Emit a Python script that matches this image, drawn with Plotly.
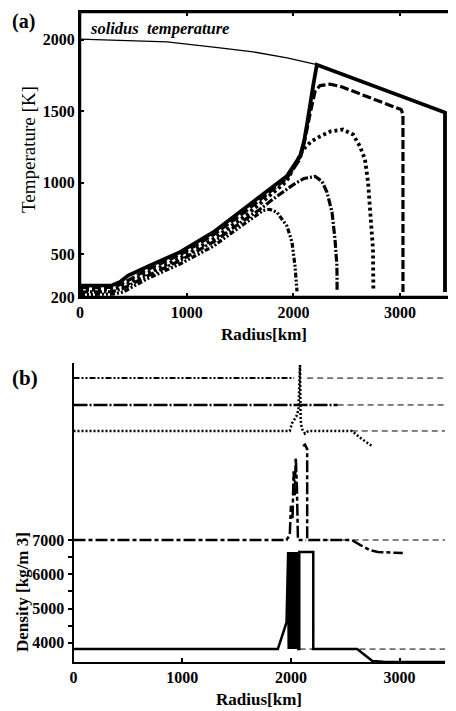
import plotly.graph_objects as go

# ---------------- Panel (a): temperature profiles ----------------
solidus_r = [0, 815, 1312, 1622, 1940, 2220]
solidus_T = [2005, 1986, 1944, 1916, 1874, 1826]

solid_r = [0, 300, 375, 450, 625, 937, 1250, 1562, 1750, 1937, 2062, 2100, 2130, 2156, 2190, 2220, 3421, 3421]
solid_T = [280, 282, 305, 350, 410, 514, 654, 828, 933, 1045, 1184, 1290, 1420, 1560, 1700, 1826, 1491, 235]

dash_r = [0, 300, 390, 625, 937, 1250, 1562, 1750, 1937, 2062, 2108, 2156, 2203, 2250, 2343, 2437, 3010, 3027, 3027]
dash_T = [265, 267, 290, 390, 495, 635, 805, 915, 1030, 1165, 1300, 1480, 1640, 1680, 1690, 1675, 1512, 1480, 235]

dot_r = [0, 300, 400, 625, 937, 1250, 1562, 1750, 1937, 2090, 2170, 2250, 2350, 2465, 2560, 2624, 2671, 2700, 2727, 2746, 2750]
dot_T = [250, 252, 272, 365, 470, 605, 775, 890, 1010, 1233, 1290, 1324, 1360, 1372, 1337, 1254, 1163, 1002, 765, 535, 240]

dashdot_r = [0, 300, 400, 625, 937, 1250, 1562, 1687, 1800, 1900, 1996, 2100, 2203, 2268, 2315, 2362, 2390, 2408, 2410]
dashdot_T = [235, 237, 258, 345, 455, 585, 750, 814, 880, 935, 985, 1030, 1044, 1010, 933, 793, 605, 417, 240]

ddot_r = [0, 300, 407, 625, 937, 1250, 1562, 1715, 1780, 1846, 1940, 1987, 2015, 2034]
ddot_T = [218, 220, 235, 326, 431, 556, 724, 805, 814, 793, 696, 584, 417, 240]

# ---------------- Panel (b): density profiles (stacked) ----------------
bsolid_r = [0, 1880, 1950, 1960, 1975, 1980, 1990, 1995, 2005, 2010, 2020, 2025, 2035, 2040,
            2050, 2055, 2062, 2068, 2077, 2077, 2206, 2206, 2610, 2750, 2850, 3418]
bsolid_rho = [3820, 3820, 4500, 4600, 6650, 3820, 6650, 3820, 6650, 3820, 6650, 3820, 6650, 3820,
              6650, 3820, 6650, 3820, 3820, 6650, 6650, 3820, 3820, 3470, 3450, 3440]

bdash_r = [0, 1960, 1990, 2000, 2015, 2025, 2035, 2045, 2055, 2065, 2075, 2140, None,
           2150, 2150, 2130, 2112, None, 2160, 2560, 2640, 2730, 2800, 3030]
bdash_rho = [7000, 7000, 7150, 8000, 7600, 9000, 8300, 9400, 8600, 7000, 7000, 7000, None,
             7050, 9650, 9780, 9740, None, 7000, 7000, 6850, 6700, 6650, 6620]

bdot_r = [0, 1990, 2010, 2030, 2050, 2070, 2084, 2090, 2100, 2130, 2160, 2560, 2650, 2746]
bdot_rho = [10178, 10178, 10400, 10500, 10600, 10800, 12100, 10500, 10250, 10100, 10178, 10178, 9950, 9740]

bdd_r = [0, 2430]
bdd_rho = [10936, 10936]

bddd_r = [0, 2030]
bddd_rho = [11720, 11720]

ext_start = [2080, 2200, 2560, 2430, 2150]
ext_rho = [3820, 7000, 10178, 10936, 11720]
ext_end = 3418

a_xticks = [0, 1000, 2000, 3000]
a_yticks = [200, 500, 1000, 1500, 2000]
b_xticks = [0, 1000, 2000, 3000]
b_yticks = [4000, 5000, 6000, 7000]
b_yminor = [4500, 5500, 6500]

# page body has an 8px margin: draw in page pixels, shifted by OFF
OFF = 8
W, H = 456 - OFF, 711 - OFF
SERIF = "Liberation Serif, Times New Roman, serif"

def fx(px):
    return (px - OFF) / W

def fy(py):
    return 1 - (py - OFF) / H

fig = go.Figure()

def addline(x, y, xa, ya, dash, width):
    fig.add_trace(go.Scatter(x=x, y=y, mode="lines", xaxis=xa, yaxis=ya,
                             line=dict(color="black", width=width, dash=dash),
                             connectgaps=False, showlegend=False, hoverinfo="skip"))

# panel a
addline(solidus_r, solidus_T, "x", "y", "solid", 1.3)
addline(ddot_r, ddot_T, "x", "y", "5px,2px,2px,2px,2px,2px", 3.2)
addline(dashdot_r, dashdot_T, "x", "y", "8px,2px,2px,2px", 3.2)
addline(dot_r, dot_T, "x", "y", "3px,3px", 3.8)
addline(dash_r, dash_T, "x", "y", "9px,3px", 3.2)
addline(solid_r, solid_T, "x", "y", "solid", 3.8)

# panel b
for s, rho in zip(ext_start, ext_rho):
    addline([s, ext_end], [rho, rho], "x2", "y2", "6px,4px", 1)
addline(bddd_r, bddd_rho, "x2", "y2", "6px,2px,2px,2px,2px,2px", 2)
addline(bdd_r, bdd_rho, "x2", "y2", "14px,2px,2px,2px", 2.5)
addline(bdot_r, bdot_rho, "x2", "y2", "2px,2px", 2.5)
addline(bdash_r, bdash_rho, "x2", "y2", "12px,3px,4px,3px", 2.5)
addline(bsolid_r, bsolid_rho, "x2", "y2", "solid", 2.5)

tickfont = dict(family=SERIF, size=16, color="black", weight="bold")

fig.update_layout(
    width=W, height=H, margin=dict(l=0, r=0, t=0, b=0, pad=0),
    paper_bgcolor="white", plot_bgcolor="white",
    xaxis=dict(domain=[fx(80), fx(453)], range=[0, 3496], tickvals=a_xticks,
               showline=True, linecolor="black", linewidth=2, mirror="ticks",
               ticks="inside", ticklen=4, tickwidth=2, tickcolor="black", automargin=False,
               showgrid=False, zeroline=False, tickfont=tickfont, anchor="y"),
    yaxis=dict(domain=[fy(297), fy(12)], range=[200, 2195], tickvals=a_yticks,
               showline=True, linecolor="black", linewidth=2, mirror="ticks",
               ticks="inside", ticklen=4, tickwidth=2, tickcolor="black", automargin=False,
               showgrid=False, zeroline=False, tickfont=tickfont, anchor="x"),
    xaxis2=dict(domain=[fx(73.5), fx(445)], range=[0, 3418], tickvals=b_xticks,
                showline=True, linecolor="black", linewidth=2,
                ticks="inside", ticklen=4, tickwidth=1.5, tickcolor="black", automargin=False,
                showgrid=False, zeroline=False, tickfont=tickfont, anchor="y2"),
    yaxis2=dict(domain=[fy(662), fy(363)], range=[3443, 12160], tickvals=b_yticks,
                showline=True, linecolor="black", linewidth=2,
                ticks="outside", ticklen=4, tickwidth=1.5, tickcolor="black", automargin=False,
                minor=dict(tickmode="array", tickvals=b_yminor, ticks="outside", ticklen=4,
                           tickwidth=1.5, tickcolor="black", showgrid=False),
                showgrid=False, zeroline=False, tickfont=tickfont, anchor="x2"),
)

# thick frame around panel (a)
fig.add_shape(type="rect", xref="x domain", yref="y domain", x0=0, x1=1, y0=0, y1=1,
              line=dict(color="black", width=2.5), fillcolor="rgba(0,0,0,0)", layer="above")

def ann(text, px, py, size, bold=True, italic=False, angle=0, xanchor="center"):
    fig.add_annotation(text=text, x=fx(px), y=fy(py), xref="paper", yref="paper",
                       showarrow=False, textangle=angle, xanchor=xanchor, yanchor="middle",
                       font=dict(family=SERIF, size=size, color="black",
                                 weight="bold" if bold else "normal",
                                 style="italic" if italic else "normal"))

ann("(a)", 10, 21, 20, xanchor="left")
ann("solidus  temperature", 88, 28, 16.5, italic=True, xanchor="left")
ann("Temperature [K]", 28, 150, 19, bold=False, angle=-90)
ann("Radius[km]", 264, 334, 17)
ann("(b)", 10, 378, 21, xanchor="left")
ann("Density [kg/m 3]", 22, 592, 17, angle=-90)
ann("Radius[km]", 259, 699, 17)

fig.write_html("out.html")
